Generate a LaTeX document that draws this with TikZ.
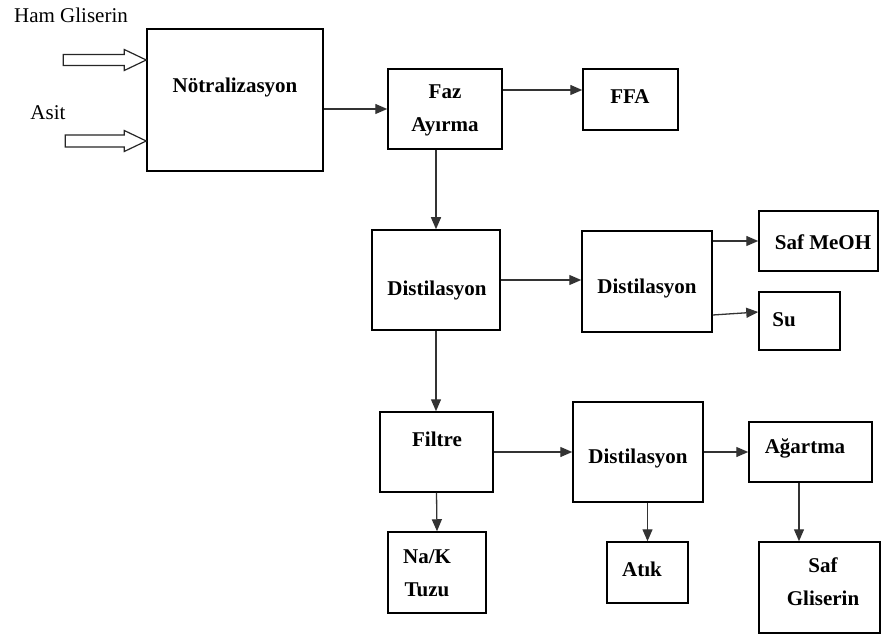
\documentclass[tikz,border=0pt]{standalone}
\usepackage{fontspec}
\setmainfont{Liberation Serif}
\usetikzlibrary{fit,calc,arrows.meta}
\begin{document}
\begin{tikzpicture}[x=1pt,y=-1pt,
  box/.style={draw=black, line width=1.5pt, inner sep=0pt},
  lbl/.style={font=\fontsize{21}{33}\selectfont\bfseries, align=center, inner sep=0pt},
  plain/.style={font=\fontsize{21}{24}\selectfont, inner sep=0pt},
  arr/.style={line width=1.3pt, draw=black!80, -{Triangle[length=12pt,width=10pt]}},
  hollow/.style={draw=black!85, line width=1.2pt, fill=white}]
\useasboundingbox (0,0) rectangle (883,636);

% process boxes
\node[box, fit={(147,29) (323,171)}] (notr) {};
\node[box, fit={(388,69) (502,149)}] (faz) {};
\node[box, fit={(583,69) (678,130)}] (ffa) {};
\node[box, fit={(372,230) (500,330)}] (dist1) {};
\node[box, fit={(582,231) (712,332)}] (dist2) {};
\node[box, fit={(759,211) (878,271)}] (meoh) {};
\node[box, fit={(759,292) (840,350)}] (su) {};
\node[box, fit={(380,412) (493,492)}] (filtre) {};
\node[box, fit={(573,402) (703,502)}] (dist3) {};
\node[box, fit={(749,422) (872,482)}] (agar) {};
\node[box, fit={(388,532) (486,613)}] (nak) {};
\node[box, fit={(607,542) (688,603)}] (atik) {};
\node[box, fit={(759,542) (880,633)}] (gli) {};

% box texts
\node[lbl] (tnotr) at (235,87) {Nötralizasyon};
\node[lbl] (tfaz) at (445,110) {Faz\\Ayırma};
\node[lbl] (tffa) at (630,97) {FFA};
\node[lbl] (tdist1) at (437,290) {Distilasyon};
\node[lbl] (tdist2) at (647,288) {Distilasyon};
\node[lbl] (tmeoh) at (823,242) {Saf MeOH};
\node[lbl] (tsu) at (784,320) {Su};
\node[lbl] (tfiltre) at (437,439) {Filtre};
\node[lbl] (tdist3) at (638,458) {Distilasyon};
\node[lbl] (tagar) at (805,448) {Ağartma};
\node[lbl] (tnak) at (427,573) {Na/K\\Tuzu};
\node[lbl] (tatik) at (642,569) {Atık};
\node[lbl] (tgli) at (823,582) {Saf\\Gliserin};

% feed labels
\node[plain] (ham) at (71,15) {Ham Gliserin};
\node[plain] (asit) at (48,113) {Asit};

% hollow feed arrows
\coordinate (tipA) at ([yshift=40pt]notr.west);
\coordinate (tipB) at ([yshift=-41pt]notr.west);
\draw[hollow] (tipA) -- ($(tipA)+(-22,-10.5)$) -- ($(tipA)+(-22,-5.5)$) -- ($(tipA)+(-83,-5.5)$)
  -- ($(tipA)+(-83,5.5)$) -- ($(tipA)+(-22,5.5)$) -- ($(tipA)+(-22,10.5)$) -- cycle;
\draw[hollow] (tipB) -- ($(tipB)+(-22,-10.5)$) -- ($(tipB)+(-22,-6)$) -- ($(tipB)+(-81,-6)$)
  -- ($(tipB)+(-81,6)$) -- ($(tipB)+(-22,6)$) -- ($(tipB)+(-22,10.5)$) -- cycle;

% connectors
\draw[arr] (notr.east |- faz.west) -- (faz.west);
\draw[arr] ([yshift=19pt]faz.east) coordinate (f1) -- (f1 -| ffa.west);
\draw[arr] (faz.south -| dist1.north) -- (dist1.north);
\draw[arr] (dist1.east) -- (dist1.east -| dist2.west);
\draw[arr] (dist2.east |- meoh.west) -- (meoh.west);
\draw[arr] ([yshift=-33.5pt]dist2.east) -- ([yshift=9pt]su.west);
\draw[arr] (dist1.south) -- (dist1.south |- filtre.north);
\draw[arr] (filtre.east) -- (filtre.east -| dist3.west);
\draw[arr] (dist3.east) -- (dist3.east -| agar.west);
\draw[arr] ([xshift=-11.5pt]agar.south) coordinate (a1) -- (a1 |- gli.north);
\draw[arr] (filtre.south) -- (nak.north);
\draw[arr] (dist3.south -| atik.north) -- (atik.north);
\end{tikzpicture}
\end{document}
